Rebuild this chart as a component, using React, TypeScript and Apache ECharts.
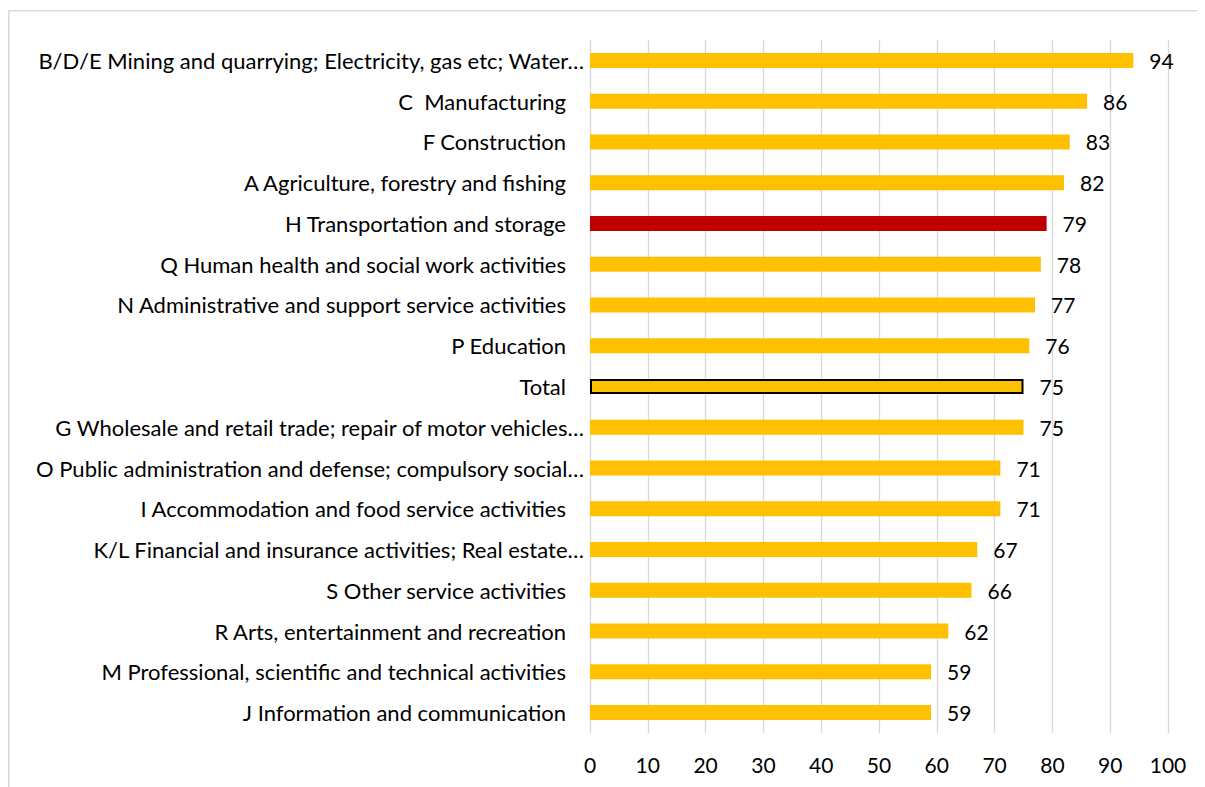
import React, { useEffect, useRef } from "react";
import * as echarts from "echarts";

const categories = [
  "B/D/E Mining and quarrying; Electricity, gas etc; Water…",
  "C  Manufacturing",
  "F Construction",
  "A Agriculture, forestry and fishing",
  "H Transportation and storage",
  "Q Human health and social work activities",
  "N Administrative and support service activities",
  "P Education",
  "Total",
  "G Wholesale and retail trade; repair of motor vehicles…",
  "O Public administration and defense; compulsory social…",
  "I Accommodation and food service activities",
  "K/L Financial and insurance activities; Real estate…",
  "S Other service activities",
  "R Arts, entertainment and recreation",
  "M Professional, scientific and technical activities",
  "J Information and communication",
];

const values = [94, 86, 83, 82, 79, 78, 77, 76, 75, 75, 71, 71, 67, 66, 62, 59, 59];

const highlightCategory = "H Transportation and storage";
const totalCategory = "Total";

const xTicks = [0, 10, 20, 30, 40, 50, 60, 70, 80, 90, 100];

const FONT = "Lato";

export default function App() {
  const ref = useRef<HTMLDivElement>(null);
  useEffect(() => {
    if (!ref.current) return;
    const chart = echarts.init(ref.current, undefined, { renderer: "svg" });
    chart.setOption({
      animation: false,
      textStyle: { fontFamily: FONT },
      graphic: [
        {
          type: "rect",
          shape: { x: 0.75, y: 2.75, width: 1400, height: 1000 },
          style: { fill: "none", stroke: "#d9d9d9", lineWidth: 1.5 },
          silent: true,
        },
      ],
      grid: { left: 582, right: 37, top: 32, height: 693, containLabel: false },
      xAxis: {
        type: "value",
        min: xTicks[0],
        max: xTicks[xTicks.length - 1],
        interval: 10,
        axisLine: { show: false },
        axisTick: { show: false },
        splitLine: { show: true, lineStyle: { color: "#d9d9d9", width: 1.3 } },
        axisLabel: { fontSize: 21, color: "#000", margin: 21, fontFamily: FONT },
      },
      yAxis: {
        type: "category",
        inverse: true,
        data: categories.map((c) =>
          c.endsWith("…")
            ? { value: c, textStyle: { padding: [0, -18, 0, 0] } }
            : c
        ),
        axisLine: { show: false },
        axisTick: { show: false },
        axisLabel: { fontSize: 22, color: "#000", margin: 24, fontFamily: FONT },
      },
      series: [
        {
          type: "bar",
          barWidth: 15,
          data: values.map((v, i) => {
            const c = categories[i];
            if (c === highlightCategory) return { value: v, itemStyle: { color: "#C00000" } };
            if (c === totalCategory)
              return { value: v, itemStyle: { color: "#FFC000", borderColor: "#000", borderWidth: 2 } };
            return { value: v, itemStyle: { color: "#FFC000" } };
          }),
          label: {
            show: true,
            position: "right",
            distance: 16,
            fontSize: 21,
            color: "#000",
            fontFamily: FONT,
          },
        },
      ],
    });
    return () => chart.dispose();
  }, []);
  return <div ref={ref} style={{ width: 1197, height: 779 }} />;
}
